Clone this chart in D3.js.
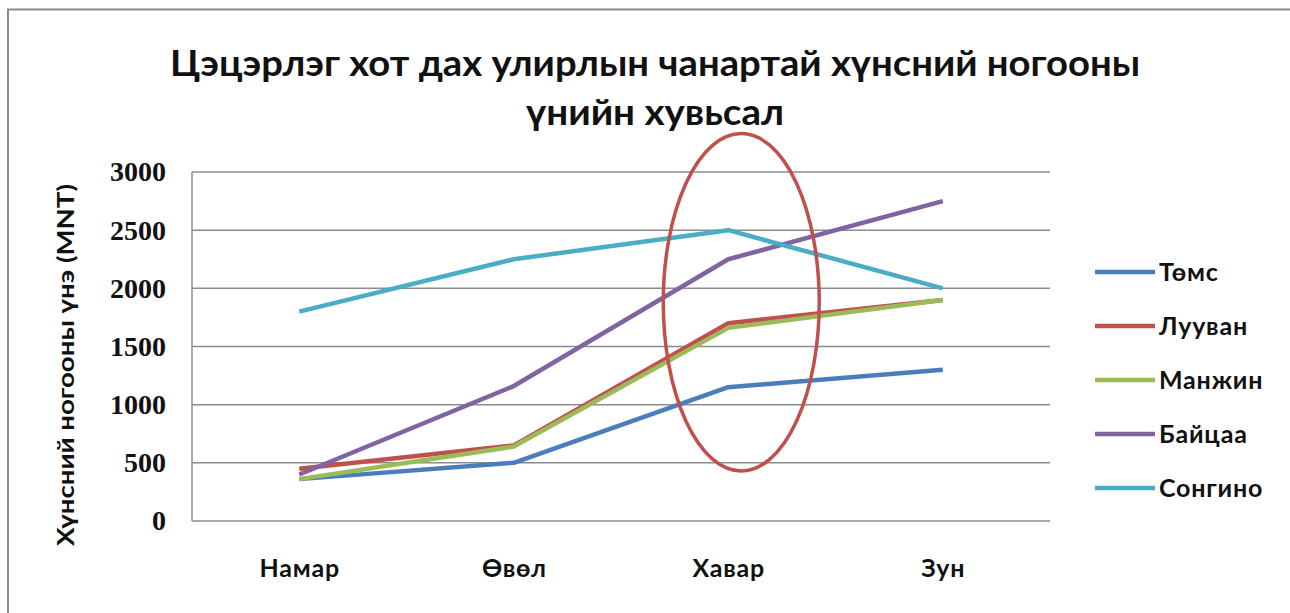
<!DOCTYPE html>
<meta charset="utf-8">
<head>
  <title>Цэцэрлэг хот - хүнсний ногооны үнэ</title>
</head>

<style>
body {
  margin: 0;
  background: #fff;
}

svg text {
  fill: #111;
}

.title text {
  font-family: Lato, "Open Sans", sans-serif;
  font-weight: bold;
  font-size: 36px;
}

.y-axis text {
  font-family: "Liberation Serif", "DejaVu Serif", serif;
  font-weight: bold;
  font-size: 28px;
}

.x-axis text, .legend text, .y-title {
  font-family: Lato, "Open Sans", sans-serif;
  font-weight: bold;
}

.x-axis text {
  font-size: 25px;
  letter-spacing: 0.8px;
}

.legend text {
  font-size: 25px;
  letter-spacing: 0.8px;
}

.y-title {
  font-size: 22px;
}

.grid line {
  stroke: #8c8c8c;
  stroke-width: 1.5px;
}

.series path {
  fill: none;
  stroke-width: 4.5px;
  stroke-linejoin: round;
}
</style>

<body>
  <svg width="1290" height="613"></svg>

  <script src="https://cdnjs.cloudflare.com/ajax/libs/d3/7.8.5/d3.min.js"></script>

  <script>
var seasons = ['Намар', 'Өвөл', 'Хавар', 'Зун'];

var seriesNames = ['Төмс', 'Лууван', 'Манжин', 'Байцаа', 'Сонгино'];
var seriesColors = ['#4a7ebb', '#c0504d', '#9bbb59', '#8064a2', '#4bacc6'];

var tomsValues = [360, 500, 1150, 1300];
var luuvanValues = [450, 650, 1700, 1900];
var manjinValues = [360, 640, 1660, 1900];
var baitsaaValues = [400, 1160, 2250, 2750];
var songinoValues = [1800, 2250, 2500, 2000];

var yTicks = [0, 500, 1000, 1500, 2000, 2500, 3000];

var titleLines = ['Цэцэрлэг хот дах улирлын чанартай хүнсний ногооны', 'үнийн хувьсал'];
var yTitle = 'Хүнсний ногооны үнэ (MNT)';

// highlighted season (red ellipse), value range it spans
var highlight = { season: 'Хавар', low: 430, high: 3330 };

var series = seriesNames.map(function(name, i) {
  return {
    name: name,
    color: seriesColors[i],
    values: [tomsValues, luuvanValues, manjinValues, baitsaaValues, songinoValues][i]
  };
});

var svg = d3.select('svg');

var plot = { left: 192, right: 1050, top: 172, bottom: 521 };

var x = d3.scalePoint()
  .domain(seasons)
  .range([plot.left, plot.right])
  .padding(0.5);

var y = d3.scaleLinear()
  .domain([0, 3000])
  .range([plot.bottom, plot.top]);

// outer frame (top and left edges only visible)
svg.append('path')
  .attr('d', 'M8,1290 L8,9.5 L1290,9.5')
  .attr('fill', 'none')
  .attr('stroke', '#8a8a8a')
  .attr('stroke-width', 2);

// title
svg.append('g')
  .attr('class', 'title')
  .selectAll('text')
  .data(titleLines)
  .enter()
  .append('text')
  .attr('x', 655)
  .attr('y', function(d, i) { return 76 + i * 49; })
  .attr('text-anchor', 'middle')
  .attr('textLength', function(d, i) { return i === 0 ? 970 : 258; })
  .attr('lengthAdjust', 'spacingAndGlyphs')
  .text(function(d) { return d; });

// gridlines
svg.append('g')
  .attr('class', 'grid')
  .selectAll('line')
  .data(yTicks)
  .enter()
  .append('line')
  .attr('x1', plot.left)
  .attr('x2', plot.right)
  .attr('y1', function(d) { return y(d); })
  .attr('y2', function(d) { return y(d); });

// left axis line
svg.append('line')
  .attr('x1', plot.left).attr('x2', plot.left)
  .attr('y1', plot.top).attr('y2', plot.bottom)
  .attr('stroke', '#8c8c8c')
  .attr('stroke-width', 1.5);

// y axis labels
var yAxis = d3.axisLeft(y)
  .tickValues(yTicks)
  .tickSize(0)
  .tickPadding(26)
  .tickFormat(d3.format('d'));

svg.append('g')
  .attr('class', 'y-axis')
  .attr('transform', 'translate(' + plot.left + ',0)')
  .call(yAxis)
  .call(function(g) { g.select('.domain').remove(); });

// x axis labels
var xAxis = d3.axisBottom(x)
  .tickSize(0)
  .tickPadding(38);

svg.append('g')
  .attr('class', 'x-axis')
  .attr('transform', 'translate(0,' + plot.bottom + ')')
  .call(xAxis)
  .call(function(g) { g.select('.domain').remove(); });

svg.selectAll('.y-axis text, .x-axis text').attr('fill', '#111');

// y title
svg.append('text')
  .attr('class', 'y-title')
  .attr('transform', 'translate(74,365) rotate(-90)')
  .attr('text-anchor', 'middle')
  .attr('textLength', 362)
  .attr('lengthAdjust', 'spacingAndGlyphs')
  .text(yTitle);

// lines
var line = d3.line()
  .x(function(d, i) { return x(seasons[i]); })
  .y(function(d) { return y(d); });

svg.append('g')
  .attr('class', 'series')
  .selectAll('path')
  .data(series)
  .enter()
  .append('path')
  .attr('stroke', function(d) { return d.color; })
  .attr('d', function(d) { return line(d.values); });

// red ellipse around the spring season
var ellTop = y(highlight.high), ellBottom = y(highlight.low);
svg.append('ellipse')
  .attr('cx', x(highlight.season) + 13)
  .attr('cy', (ellTop + ellBottom) / 2)
  .attr('rx', 78)
  .attr('ry', (ellBottom - ellTop) / 2)
  .attr('fill', 'none')
  .attr('stroke', '#c0504d')
  .attr('stroke-width', 3.5);

// legend
var legend = svg.append('g')
  .attr('class', 'legend')
  .attr('transform', 'translate(1095,272)')
  .selectAll('g')
  .data(series)
  .enter()
  .append('g')
  .attr('transform', function(d, i) { return 'translate(0,' + (i * 54) + ')'; });

legend.append('line')
  .attr('x1', 0).attr('x2', 60)
  .attr('stroke', function(d) { return d.color; })
  .attr('stroke-width', 4.5);

legend.append('text')
  .attr('x', 64)
  .attr('dy', '0.35em')
  .text(function(d) { return d.name; });
  </script>
</body>
</html>
